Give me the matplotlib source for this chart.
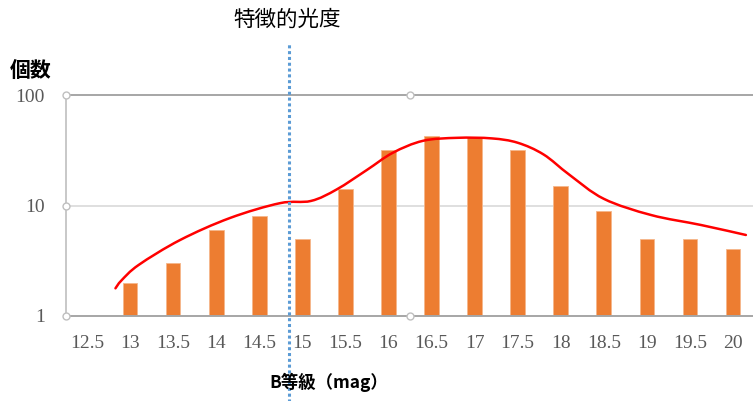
import matplotlib.pyplot as plt
from matplotlib.path import Path
from matplotlib.patches import PathPatch
import numpy as np

plt.rcParams['font.family'] = ['Noto Sans CJK JP', 'DejaVu Sans']

# star counts per 0.5 mag bin
mags = [13, 13.5, 14, 14.5, 15, 15.5, 16, 16.5, 17, 17.5, 18, 18.5, 19, 19.5, 20]
counts = [2, 3, 6, 8, 5, 14, 32, 43, 42, 32, 15, 9, 5, 5, 4]

# fitted luminosity function, sampled along the drawn curve
curve_mag = [12.83, 12.9, 13.1, 13.58, 14.16, 14.74, 15.1, 15.4, 15.75,
             16.05, 16.4, 16.8, 17.2, 17.5, 17.8, 18.1, 18.5, 19.05, 19.63,
             20.15]
curve_n = [1.78, 2.1, 2.9, 4.87, 7.71, 10.5, 11.0, 14.0, 21.0,
           30.0, 38.5, 41.0, 40.5, 37.0, 29.0, 19.0, 11.5, 8.2, 6.66,
           5.41]

tick_mags = [12.5, 13, 13.5, 14, 14.5, 15, 15.5, 16, 16.5, 17, 17.5, 18,
             18.5, 19, 19.5, 20]
tick_labels = ['12.5', '13', '13.5', '14', '14.5', '15', '15.5', '16', '16.5',
               '17', '17.5', '18', '18.5', '19', '19.5', '20']
y_ticks = [1, 10, 100]
y_labels = ['1', '10', '100']

char_mag = 14.84

fig = plt.figure(figsize=(7.53, 4.01), dpi=100)
ax = fig.add_axes([0.087, 0.212, 0.915, 0.551])

ax.bar(mags, counts, width=0.17, color='#ed7d31', edgecolor='#f6b78a',
       linewidth=0.6, zorder=3)


def smooth_path(xs, ys):
    # Catmull-Rom spline through the samples, in (x, log y) space
    px = np.asarray(xs, float)
    py = np.log10(np.asarray(ys, float))
    px = np.concatenate([[px[0]], px, [px[-1]]])
    py = np.concatenate([[py[0]], py, [py[-1]]])
    verts = [(px[1], py[1])]
    codes = [Path.MOVETO]
    for i in range(1, len(px) - 2):
        c1 = (px[i] + (px[i + 1] - px[i - 1]) / 6, py[i] + (py[i + 1] - py[i - 1]) / 6)
        c2 = (px[i + 1] - (px[i + 2] - px[i]) / 6, py[i + 1] - (py[i + 2] - py[i]) / 6)
        verts += [c1, c2, (px[i + 1], py[i + 1])]
        codes += [Path.CURVE4] * 3
    verts = [(x, 10 ** y) for x, y in verts]
    return Path(verts, codes)


ax.add_patch(PathPatch(smooth_path(curve_mag, curve_n), facecolor='none',
                       edgecolor='#ff0000', linewidth=1.8, zorder=4,
                       capstyle='round', joinstyle='round'))

ax.set_yscale('log')
ax.set_ylim(1, 100)
ax.set_xlim(12.25, 20.25)
ax.set_yticks(y_ticks)
ax.set_yticklabels(y_labels)
ax.minorticks_off()
ax.set_xticks(tick_mags)
ax.set_xticklabels(tick_labels)
for lab in ax.get_xticklabels() + ax.get_yticklabels():
    lab.set_fontfamily('Liberation Serif')
    lab.set_fontsize(14)
    lab.set_color('#595959')
ax.tick_params(axis='x', length=0, pad=14)
ax.tick_params(axis='y', length=0, pad=15)

for s in ['top', 'right', 'bottom']:
    ax.spines[s].set_visible(False)
ax.spines['left'].set_color('#bfbfbf')
ax.spines['left'].set_linewidth(1.2)

ax.axhline(10, color='#d9d9d9', linewidth=1.2, zorder=1)
ax.axhline(100, color='#a6a6a6', linewidth=1.4, zorder=1, clip_on=False)
ax.axhline(1, color='#a6a6a6', linewidth=1.4, zorder=5, clip_on=False)

# selection handles on the plot frame
hx = [12.25, 12.25, 12.25, 16.25, 16.25]
hy = [100, 10, 1, 100, 1]
ax.plot(hx, hy, 'o', markersize=5, markerfacecolor='white',
        markeredgecolor='#bfbfbf', markeredgewidth=1.0, clip_on=False, zorder=6,
        linestyle='none')

ax.axvline(char_mag, ymin=-0.39, ymax=1.23, color='#5b9bd5', linewidth=2.2,
           linestyle=(0, (1, 0.9)), dash_capstyle='butt', clip_on=False,
           zorder=7)

fig.text(0.381, 0.95, '特徴的光度', fontsize=15.5, ha='center', va='center',
         color='black')
fig.text(0.013, 0.825, '個数', fontsize=15, fontweight='bold', ha='left',
         va='center', color='black')
fig.text(0.436, 0.047, 'B等級（mag）', fontsize=12.5, fontweight='bold',
         ha='center', va='center', color='black')

fig.savefig('out.png', dpi=100)
